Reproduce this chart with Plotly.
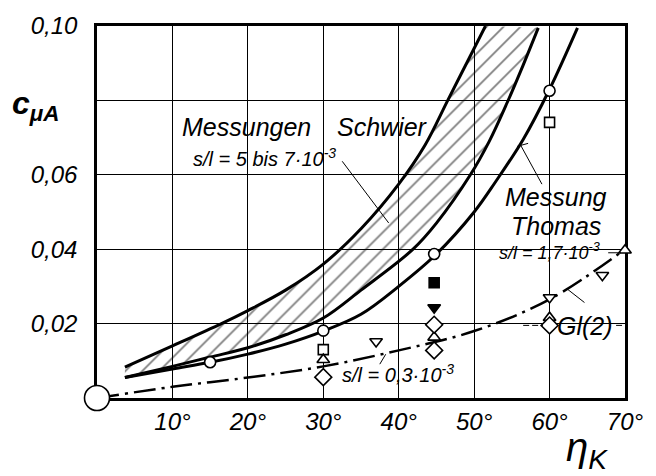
import plotly.graph_objects as go

# ---------------- data ----------------
# Messungen Schwier, upper boundary of the band
schwier_up_x = [3.7, 10, 16.5, 20, 25, 30, 35, 40, 43.5, 46.5, 49, 51.5]
schwier_up_y = [0.0083, 0.014, 0.020, 0.0235, 0.029, 0.036, 0.0455, 0.0575, 0.068, 0.080, 0.090, 0.100]
# Messungen Schwier, lower boundary of the band
schwier_lo_x = [3.7, 10, 15, 20, 25, 30, 35, 41.9, 45, 49.5, 52, 54.4, 56.5, 58.5]
schwier_lo_y = [0.0055, 0.0085, 0.011, 0.0135, 0.017, 0.0215, 0.029, 0.040, 0.047, 0.060, 0.069, 0.0795, 0.0895, 0.0995]
# Messung Thomas, s/l = 1.7e-3
thomas_x = [3.7, 10, 15, 20, 25, 30, 35, 40, 45, 50, 52.8, 56.5, 60, 63.7]
thomas_y = [0.0055, 0.0078, 0.0096, 0.0118, 0.0145, 0.018, 0.0225, 0.030, 0.0387, 0.050, 0.058, 0.0695, 0.083, 0.0995]
# Gl(2), s/l = 0.3e-3 (dash-dot)
gl2_x = [0, 10, 20, 30, 40, 50, 60, 70]
gl2_y = [0, 0.003, 0.0055, 0.0085, 0.0128, 0.018, 0.0265, 0.040]

# measured points
circ_x = [15, 30, 44.7, 60]
circ_y = [0.0096, 0.0181, 0.0387, 0.0826]
sq_x = [30, 60]
sq_y = [0.013, 0.0741]
tri_up_x = [30, 44.7, 60, 70]
tri_up_y = [0.0103, 0.0163, 0.0216, 0.0397]
tri_dn_x = [37, 60, 67]
tri_dn_y = [0.0152, 0.0270, 0.0330]
dia_x = [30, 44.7, 44.7, 60]
dia_y = [0.0056, 0.0197, 0.0128, 0.0195]
sq_fill_x = [44.7]
sq_fill_y = [0.031]
tri_dn_fill_x = [44.7]
tri_dn_fill_y = [0.0243]
origin_x = [0]
origin_y = [0]

x_ticks = [10, 20, 30, 40, 50, 60, 70]
x_ticktext = ["10°", "20°", "30°", "40°", "50°", "60°", "70°"]
y_ticks = [0.02, 0.04, 0.06, 0.08, 0.10]
y_ticktext = ["0,02", "0,04", "0,06", "", "0,10"]

# ---------------- figure ----------------
W, H = 656, 476
L, R, T, B = 97, 25, 24, 78
X0, X1, Y0, Y1 = 0, 70, 0, 0.10


def PX(px):  # pixel -> paper fraction
    return (px - L) / (W - L - R)


def PY(py):
    return (H - B - py) / (H - T - B)


FONT = "Liberation Sans"
fig = go.Figure()

fig.add_trace(go.Scatter(x=schwier_lo_x, y=schwier_lo_y, mode="lines",
                         line=dict(color="black", width=3, shape="spline", smoothing=1)))
fig.add_trace(go.Scatter(x=schwier_up_x, y=schwier_up_y, mode="lines",
                         line=dict(color="black", width=3, shape="spline", smoothing=1),
                         fill="tonexty", fillcolor="rgba(0,0,0,0)",
                         fillpattern=dict(shape="/", size=12, solidity=0.15,
                                          fgcolor="black", bgcolor="rgba(0,0,0,0)")))
fig.add_trace(go.Scatter(x=thomas_x, y=thomas_y, mode="lines",
                         line=dict(color="black", width=3, shape="spline", smoothing=1)))
fig.add_trace(go.Scatter(x=gl2_x, y=gl2_y, mode="lines",
                         line=dict(color="black", width=2.5, shape="spline", smoothing=1,
                                   dash="22px,6px,3px,6px")))


def pts(x, y, sym, size, fill="white"):
    fig.add_trace(go.Scatter(x=x, y=y, mode="markers", cliponaxis=False,
                             marker=dict(symbol=sym, size=size, color=fill,
                                         line=dict(color="black", width=1.6))))


pts(circ_x, circ_y, "circle", 11)
pts(sq_x, sq_y, "square", 10)
pts(tri_up_x, tri_up_y, "triangle-up", 11)
pts(tri_dn_x, tri_dn_y, "triangle-down", 11)
pts(dia_x, dia_y, "diamond", 13)
pts(sq_fill_x, sq_fill_y, "square", 10, fill="black")
pts(tri_dn_fill_x, tri_dn_fill_y, "triangle-down", 11, fill="black")
pts(origin_x, origin_y, "circle", 25)

# leader lines (pixel positions)
leaders = [
    ((345, 160), (392, 222)),
    ((525, 143), (547, 183)),
    ((522, 145), (533, 142)),
    ((383, 364), (389, 354)),
    ((590, 302), (572, 288)),
    ((614, 252), (627, 252)),
    ((622, 325), (628, 325)),
]
for (ax, ay), (bx, by) in leaders:
    fig.add_shape(type="line", xref="paper", yref="paper",
                  x0=PX(ax), y0=PY(ay), x1=PX(bx), y1=PY(by),
                  line=dict(color="black", width=1))
fig.add_shape(type="line", xref="paper", yref="paper",
              x0=PX(528), y0=PY(325), x1=PX(548), y1=PY(325),
              line=dict(color="black", width=1, dash="6px,3px"))


def txt(s, px, py, size, weight="normal"):
    fig.add_annotation(xref="paper", yref="paper", x=PX(px), y=PY(py), text=s,
                       showarrow=False, xanchor="center", yanchor="middle",
                       font=dict(family=FONT, size=size, color="black",
                                 style="italic", weight=weight))


txt("Messungen", 248, 126, 25)
txt("Schwier", 386, 126, 25)
txt("s/l = 5 bis 7·10<sup>-3</sup>", 266, 156, 20)
txt("Messung", 561, 196, 25)
txt("Thomas", 561, 225, 25)
txt("s/l = 1,7·10<sup>-3</sup>", 555, 251, 18)
txt("Gl(2)", 591, 326, 25)
txt("s/l = 0,3·10<sup>-3</sup>", 401, 373, 20)
txt("c<sub>μA</sub>", 35, 104, 32, weight="bold")
txt("η<sub>K</sub>", 593, 450, 40)

fig.update_layout(
    width=W, height=H, margin=dict(l=L, r=R, t=T, b=B),
    plot_bgcolor="white", paper_bgcolor="white", showlegend=False,
)
fig.update_xaxes(range=[X0, X1], tickvals=x_ticks, ticktext=x_ticktext,
                 showgrid=True, gridcolor="black", gridwidth=1.3,
                 showline=True, linecolor="black", linewidth=2.5, mirror=True,
                 zeroline=False, ticks="", layer="below traces",
                 tickfont=dict(family=FONT, size=24, color="black", style="italic"))
fig.update_yaxes(range=[Y0, Y1], tickvals=y_ticks, ticktext=y_ticktext,
                 showgrid=True, gridcolor="black", gridwidth=1.3,
                 showline=True, linecolor="black", linewidth=2.5, mirror=True,
                 zeroline=False, ticks="", ticklabelstandoff=12, layer="below traces",
                 tickfont=dict(family=FONT, size=24, color="black", style="italic"))

fig.write_html("out.html")
